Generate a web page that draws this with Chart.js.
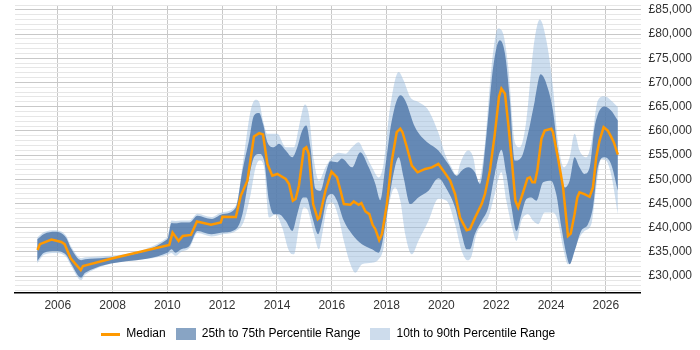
<!DOCTYPE html>
<html>
<head>
<meta charset="utf-8">
<script src="https://cdn.jsdelivr.net/npm/chart.js@4"></script>
<style>
    html, body { margin: 0; padding: 0; background: #fff; }
    #wrap { width: 700px; height: 350px; }
</style>
</head>
<body>
<div id="wrap"><canvas id="salaryChart"></canvas></div>
<script>
// Values: [year, salary]
const median = [
    [2005.26, 35400], [2005.35, 36600], [2005.77, 37550], [2006.13, 37070], [2006.25, 36600],
    [2006.47, 33700], [2006.84, 31270], [2006.92, 32100], [2008.01, 33700], [2010.07, 36450],
    [2010.19, 39000], [2010.41, 37280], [2010.56, 38300], [2010.86, 38520], [2011.08, 41280],
    [2011.59, 40600], [2011.95, 41070], [2012.01, 42250], [2012.5, 42200], [2012.68, 46600],
    [2012.92, 49700], [2013.16, 58840], [2013.35, 59530], [2013.49, 59250], [2013.65, 53170],
    [2013.83, 50750], [2014.01, 51100], [2014.32, 50070], [2014.44, 49030], [2014.58, 45570],
    [2014.68, 45920], [2014.8, 48680], [2014.98, 56280], [2015.07, 56620], [2015.16, 55250],
    [2015.32, 44880], [2015.49, 41780], [2015.55, 42100], [2015.77, 47640], [2015.99, 51580],
    [2016.19, 50400], [2016.32, 47640], [2016.44, 44880], [2016.68, 44740], [2016.8, 45430],
    [2016.98, 44740], [2017.08, 45090], [2017.23, 43350], [2017.37, 42810], [2017.49, 40600],
    [2017.59, 39700], [2017.73, 37420], [2017.83, 38670], [2018.01, 44880], [2018.19, 53860],
    [2018.37, 59730], [2018.5, 60430], [2018.58, 59730], [2018.74, 56620], [2018.92, 52830],
    [2019.13, 51440], [2019.41, 52140], [2019.65, 52470], [2019.89, 53170], [2020.07, 51790],
    [2020.32, 49720], [2020.5, 46960], [2020.68, 42100], [2020.92, 39500], [2021.04, 39700],
    [2021.23, 42100], [2021.47, 44880], [2021.59, 46960], [2021.77, 51790], [2021.95, 59400],
    [2022.1, 66990], [2022.19, 68730], [2022.32, 67690], [2022.44, 61470], [2022.58, 53170],
    [2022.7, 45570], [2022.8, 44190], [2022.98, 47300], [2023.14, 50200], [2023.23, 50400],
    [2023.32, 49370], [2023.41, 49370], [2023.5, 51790], [2023.65, 58360], [2023.77, 60080],
    [2024.01, 60430], [2024.07, 59730], [2024.25, 54550], [2024.44, 48330], [2024.62, 38300],
    [2024.72, 38790], [2024.86, 42810], [2024.96, 46260], [2025.04, 47300], [2025.22, 46960],
    [2025.41, 46400], [2025.53, 48330], [2025.65, 54550], [2025.77, 58010], [2025.92, 60770],
    [2026.07, 60080], [2026.2, 58700], [2026.29, 57660], [2026.44, 55110]
];

const p75 = [
    [2005.25, 37600], [2005.5, 38700], [2005.9, 39150], [2006.3, 38000], [2006.5, 35600],
    [2006.85, 33300], [2007.0, 33500], [2010.0, 37600], [2010.15, 41000], [2010.3, 40900],
    [2010.5, 41100], [2010.8, 41100], [2011.1, 42500], [2011.6, 41800], [2012.0, 42800],
    [2012.5, 44200], [2012.74, 51790], [2012.98, 58000], [2013.16, 63190], [2013.35, 63670],
    [2013.49, 61470], [2013.65, 57660], [2013.89, 56620], [2014.07, 57320], [2014.32, 55940],
    [2014.56, 54550], [2014.74, 56620], [2014.92, 60080], [2015.07, 61120], [2015.22, 56620],
    [2015.41, 48000], [2015.59, 47640], [2015.77, 51100], [2015.95, 53720], [2016.19, 53510],
    [2016.37, 54300], [2016.74, 52470], [2017.04, 55600], [2017.35, 52470], [2017.59, 49030],
    [2017.77, 45700], [2017.95, 52470], [2018.19, 62160], [2018.5, 67340], [2018.68, 66300],
    [2019.04, 60770], [2019.41, 58010], [2019.89, 55940], [2020.25, 53170], [2020.56, 50750],
    [2020.74, 51790], [2020.98, 52470], [2021.22, 51440], [2021.41, 49030], [2021.65, 59400],
    [2021.89, 73200], [2022.13, 78740], [2022.32, 75980], [2022.5, 66300], [2022.68, 53860],
    [2022.92, 54550], [2023.16, 59400], [2023.41, 66300], [2023.62, 71690], [2023.83, 69760],
    [2024.07, 64230], [2024.25, 55940], [2024.5, 48330], [2024.68, 49720], [2024.86, 54550],
    [2025.04, 52470], [2025.22, 51100], [2025.41, 52470], [2025.59, 60770], [2025.95, 65060],
    [2026.19, 64230], [2026.44, 62160]
];

const p25 = [
    [2005.25, 33100], [2005.5, 34850], [2005.9, 35200], [2006.3, 34400], [2006.5, 32450],
    [2006.85, 29700], [2007.0, 30700], [2010.0, 34850], [2010.15, 35560], [2010.3, 34850],
    [2010.5, 35560], [2010.8, 36240], [2011.1, 39350], [2011.6, 38670], [2012.0, 39000],
    [2012.5, 39700], [2012.74, 42810], [2012.98, 50400], [2013.16, 54550], [2013.35, 55250],
    [2013.53, 53860], [2013.71, 45570], [2013.89, 42810], [2014.07, 42810], [2014.32, 41430],
    [2014.56, 39350], [2014.74, 42810], [2014.95, 46260], [2015.07, 46260], [2015.29, 42100],
    [2015.5, 38670], [2015.65, 41430], [2015.83, 46260], [2016.01, 46960], [2016.19, 45570],
    [2016.44, 41430], [2016.74, 38670], [2017.1, 36600], [2017.47, 35560], [2017.71, 34850],
    [2017.83, 36600], [2018.01, 42810], [2018.25, 51100], [2018.44, 54550], [2018.62, 50400],
    [2018.86, 44880], [2019.16, 46260], [2019.53, 47640], [2019.89, 50200], [2020.19, 48000],
    [2020.5, 44190], [2020.74, 38670], [2020.92, 35560], [2021.04, 35560], [2021.22, 38670],
    [2021.47, 41430], [2021.71, 44190], [2021.95, 51100], [2022.19, 56080], [2022.37, 51100],
    [2022.56, 44190], [2022.74, 39350], [2022.92, 42810], [2023.1, 45920], [2023.28, 46260],
    [2023.47, 45570], [2023.71, 49370], [2024.0, 49720], [2024.19, 46960], [2024.38, 40040],
    [2024.56, 34520], [2024.68, 32450], [2024.86, 35200], [2025.1, 39350], [2025.35, 40740],
    [2025.53, 44190], [2025.71, 52470], [2025.95, 54550], [2026.19, 53170], [2026.44, 47640]
];

const p90 = [
    [2005.25, 38000], [2005.5, 39100], [2005.9, 39500], [2006.3, 38400], [2006.5, 36000],
    [2006.85, 33700], [2007.0, 33900], [2010.0, 38000], [2010.15, 41500], [2010.3, 41400],
    [2010.5, 41500], [2010.8, 41500], [2011.1, 42900], [2011.6, 42200], [2012.0, 43200],
    [2012.5, 44600], [2012.8, 55250], [2013.04, 64230], [2013.22, 66440], [2013.35, 65950],
    [2013.49, 62160], [2013.65, 59400], [2013.89, 59400], [2014.01, 59400], [2014.32, 56620],
    [2014.62, 56620], [2014.8, 60770], [2015.02, 65470], [2015.16, 63540], [2015.35, 53860],
    [2015.53, 49720], [2015.77, 52470], [2016.01, 54550], [2016.25, 55500], [2016.5, 55300],
    [2016.74, 56620], [2016.98, 57660], [2017.16, 55940], [2017.47, 52470], [2017.71, 50400],
    [2017.89, 53170], [2018.13, 64920], [2018.44, 72170], [2018.62, 70450], [2018.86, 67000],
    [2019.16, 65950], [2019.53, 64230], [2019.89, 59600], [2020.13, 55250], [2020.37, 52470],
    [2020.56, 50750], [2020.68, 53170], [2020.98, 55940], [2021.16, 54550], [2021.35, 49370],
    [2021.59, 57320], [2021.83, 73200], [2022.07, 81160], [2022.25, 80120], [2022.44, 73200],
    [2022.68, 57660], [2022.86, 56620], [2023.1, 62160], [2023.35, 76670], [2023.59, 83030],
    [2023.83, 78740], [2024.07, 69070], [2024.25, 58010], [2024.47, 52470], [2024.68, 54550],
    [2024.86, 59400], [2025.04, 55940], [2025.29, 54550], [2025.47, 57320], [2025.71, 66300],
    [2025.95, 67130], [2026.19, 66300], [2026.44, 64920]
];

const p10 = [
    [2005.25, 32600], [2005.5, 34400], [2005.9, 34800], [2006.3, 34000], [2006.5, 32000],
    [2006.85, 29200], [2007.0, 30300], [2010.0, 34400], [2010.15, 34800], [2010.3, 34200],
    [2010.5, 35000], [2010.8, 35800], [2011.1, 38900], [2011.6, 38200], [2012.0, 38600],
    [2012.5, 39300], [2012.8, 41430], [2013.04, 46960], [2013.22, 52470], [2013.37, 53860],
    [2013.53, 52470], [2013.71, 42100], [2013.95, 42810], [2014.19, 40040], [2014.44, 35200],
    [2014.62, 34520], [2014.8, 40040], [2014.98, 44190], [2015.1, 43850], [2015.35, 38670],
    [2015.53, 35560], [2015.65, 38670], [2015.83, 44190], [2016.01, 45220], [2016.25, 42100],
    [2016.44, 37280], [2016.68, 32450], [2016.86, 30710], [2017.1, 32450], [2017.47, 32780],
    [2017.71, 33490], [2017.89, 35890], [2018.07, 44190], [2018.31, 48330], [2018.5, 45570],
    [2018.68, 38670], [2018.92, 34520], [2019.16, 37280], [2019.53, 41430], [2019.89, 46000],
    [2020.19, 45570], [2020.5, 40740], [2020.74, 35200], [2020.96, 33270], [2021.1, 34170],
    [2021.28, 38670], [2021.53, 40740], [2021.71, 42100], [2021.95, 46960], [2022.19, 51440],
    [2022.37, 45570], [2022.58, 40040], [2022.74, 37280], [2022.92, 41430], [2023.16, 42810],
    [2023.35, 41430], [2023.53, 40740], [2023.77, 43150], [2024.07, 43150], [2024.25, 41430],
    [2024.44, 35890], [2024.62, 32450], [2024.74, 33130], [2024.98, 37280], [2025.22, 39350],
    [2025.47, 40740], [2025.65, 48330], [2025.83, 54210], [2026.01, 53860], [2026.19, 51100],
    [2026.44, 42810]
];

const xTicks = [2006, 2008, 2010, 2012, 2014, 2016, 2018, 2020, 2022, 2024, 2026];
const yTicks = [30000, 35000, 40000, 45000, 50000, 55000, 60000, 65000, 70000, 75000, 80000, 85000];
const legendLabels = ['Median', '25th to 75th Percentile Range', '10th to 90th Percentile Range'];

const ORANGE = '#ff9900';
const DARK = 'rgba(78, 118, 168, 0.82)';
const LIGHT = 'rgba(153, 187, 221, 0.5)';

const toXY = arr => arr.map(p => ({ x: p[0], y: p[1] }));

// small canvases used as legend symbols
function swatch(w, h, colour) {
    const c = document.createElement('canvas');
    c.width = w;
    c.height = h;
    const g = c.getContext('2d');
    g.fillStyle = colour;
    g.fillRect(0, 0, w, h);
    return c;
}
const legendIcons = [swatch(19, 3, ORANGE), swatch(20, 12, '#88a4c4'), swatch(20, 12, '#cddcec')];

const band = (data, colour, fill) => ({
    data: toXY(data),
    borderWidth: 0,
    borderColor: 'transparent',
    backgroundColor: colour,
    pointRadius: 0,
    fill: fill,
    cubicInterpolationMode: 'monotone'
});

// centre the legend under the plot area rather than the whole canvas
const legendUnderPlot = {
    id: 'legendUnderPlot',
    afterLayout(chart) {
        if (!chart.legend) return;
        chart.legend.left = chart.chartArea.left;
        chart.legend.right = chart.chartArea.right;
    }
};

new Chart(document.getElementById('salaryChart'), {
    type: 'line',
    data: {
        datasets: [
            {
                label: legendLabels[0],
                data: toXY(median),
                borderColor: ORANGE,
                borderWidth: 2.5,
                pointRadius: 0,
                fill: false,
                tension: 0
            },
            Object.assign(band(p75, DARK, '+1'), { label: legendLabels[1] }),
            band(p25, DARK, false),
            Object.assign(band(p90, LIGHT, '+1'), { label: legendLabels[2] }),
            band(p10, LIGHT, false)
        ]
    },
    plugins: [legendUnderPlot],
    options: {
        responsive: true,
        maintainAspectRatio: false,
        animation: false,
        devicePixelRatio: 1,
        layout: { padding: { left: 15, right: 0, top: 5, bottom: 0 } },
        plugins: {
            tooltip: { enabled: false },
            legend: {
                position: 'bottom',
                labels: {
                    usePointStyle: true,
                    pointStyleWidth: 20,
                    boxHeight: 12,
                    padding: 10,
                    color: '#333',
                    font: { family: 'Arial', size: 12 },
                    generateLabels: () => legendLabels.map((text, i) => ({
                        text: text,
                        pointStyle: legendIcons[i],
                        fillStyle: 'transparent',
                        strokeStyle: 'transparent',
                        lineWidth: 0,
                        hidden: false,
                        datasetIndex: [0, 1, 3][i]
                    }))
                }
            }
        },
        scales: {
            x: {
                type: 'linear',
                min: 2004.44,
                max: 2027.27,
                afterBuildTicks: axis => { axis.ticks = xTicks.map(v => ({ value: v })); },
                ticks: {
                    autoSkip: false,
                    maxRotation: 0,
                    padding: 5.5,
                    color: '#333',
                    font: { family: 'Arial', size: 12 },
                    callback: v => String(v)
                },
                grid: { color: '#c8c8c8', lineWidth: 1, drawTicks: false },
                border: { color: '#000', width: 1.5 },
                afterFit: axis => { axis.height -= 0.5; }
            },
            y: {
                type: 'linear',
                position: 'right',
                min: 26500,
                max: 86000,
                // a light line every 1,000 and a label on every 5,000
                afterBuildTicks: axis => {
                    const ticks = [];
                    for (let v = 27000; v <= 86000; v += 1000) ticks.push({ value: v });
                    axis.ticks = ticks;
                },
                afterFit: axis => {
                    axis.paddingTop = 0;
                    axis.paddingBottom = 0;
                },
                ticks: {
                    autoSkip: false,
                    padding: 8,
                    color: '#333',
                    font: { family: 'Arial', size: 12 },
                    callback: v => yTicks.includes(v) ? '£' + v.toLocaleString('en-GB') : ''
                },
                grid: {
                    drawTicks: false,
                    lineWidth: 1,
                    color: ctx => ctx.tick && yTicks.includes(ctx.tick.value) ? '#c8c8c8' : '#e6e6e6'
                },
                border: { display: false }
            }
        }
    }
});
</script>
</body>
</html>
